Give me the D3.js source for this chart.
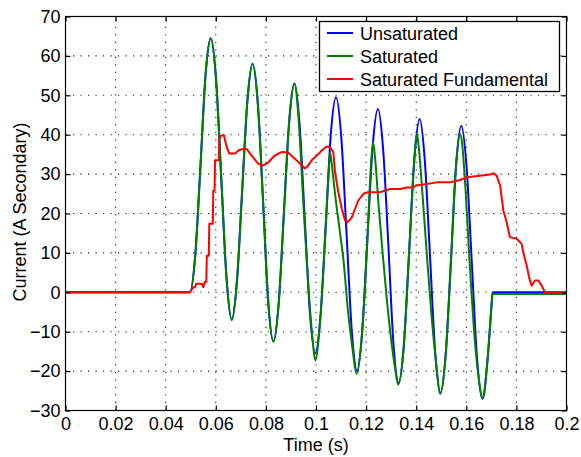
<!DOCTYPE html>
<html><head><meta charset="utf-8">
<script src="https://cdn.jsdelivr.net/npm/d3@7"></script>
<style>body{margin:0;background:#fff}text{font-family:"Liberation Sans",Arial,Helvetica,sans-serif}</style>
</head><body><svg id="c" width="581" height="457"></svg>
<script>
const xTicks=[0,0.02,0.04,0.06,0.08,0.1,0.12,0.14,0.16,0.18,0.2];
const xTickLabels=["0","0.02","0.04","0.06","0.08","0.1","0.12","0.14","0.16","0.18","0.2"];
const yTicks=[-30,-20,-10,0,10,20,30,40,50,60,70];
const yTickLabels=["\u221230","\u221220","\u221210","0","10","20","30","40","50","60","70"];
const seriesNames=["Unsaturated","Saturated","Saturated Fundamental"];
const seriesColors=["#0000ff","#008000","#ff0000"];

const unsatT=[0,0.0497,0.0518,0.0539,0.0559,0.0580,0.0601,0.0622,0.0643,0.0664,0.0684,0.0705,0.0726,0.0747,0.0768,0.0789,0.0809,0.0830,0.0851,0.0872,0.0893,0.0914,0.0934,0.0955,0.0976,0.0997,0.1018,0.1039,0.1059,0.1080,0.1101,0.1122,0.1143,0.1164,0.1184,0.1205,0.1226,0.1247,0.1268,0.1289,0.1309,0.1330,0.1351,0.1372,0.1393,0.1414,0.1434,0.1455,0.1476,0.1497,0.1518,0.1539,0.1559,0.1580,0.1601,0.1622,0.1643,0.1664,0.1685,0.1700,0.1705,0.2];
const unsatV=[0,0,9.4,32.3,55.1,64.5,54.1,28.8,3.4,-7,2.5,25.5,48.5,58,47.7,22.8,-2.2,-12.5,-2.9,20.3,43.4,53,43,18.8,-5.5,-15.5,-6,17,40,49.5,39.3,14.8,-9.9,-20,-10.3,13.3,36.8,46.5,36.3,11.8,-12.9,-23,-13.2,10.5,34.2,44,33.8,9.3,-15.4,-25.5,-15.6,8.3,32.1,42.3,31.9,7.5,-16.9,-27,-17,-4,0,0];

const satT=[0,0.0497,0.0518,0.0539,0.0559,0.0580,0.0601,0.0622,0.0643,0.0664,0.0684,0.0705,0.0726,0.0747,0.0768,0.0789,0.0809,0.0830,0.0851,0.0872,0.0893,0.0914,0.0930,0.0950,0.0970,0.0985,0.0997,0.1018,0.1039,0.1050,0.1056,0.1062,0.1076,0.1094,0.1110,0.1128,0.1145,0.1162,0.1184,0.1205,0.1220,0.1228,0.1236,0.1250,0.1266,0.1283,0.1300,0.1315,0.1328,0.1351,0.1372,0.1393,0.1402,0.1410,0.1425,0.1442,0.1460,0.1478,0.1496,0.1518,0.1539,0.1559,0.1575,0.1583,0.1593,0.1613,0.1635,0.1650,0.1666,0.1685,0.1700,0.1705,0.2];
const satV=[0,0,9.4,32.3,55.1,64.5,54.1,28.8,3.4,-7,2.5,25.5,48.5,58,47.7,22.8,-2.2,-12.5,-2.9,20.3,43.4,53,44.5,22,1,-11,-17.3,-6,17,30,35.5,33,25,16,8,-5,-14,-20.7,-10.3,13.3,33,38,34,22,10,-2,-12,-19,-23.4,-13.2,10.5,34.2,40.2,37,25,10,-5,-17,-25.8,-15.6,8.3,32.1,40.2,38,30,8,-13,-22,-27,-17,-4,-0.4,-0.4];

const fundT=[0,0.0497,0.0510,0.0517,0.0522,0.0544,0.0550,0.0556,0.0562,0.0564,0.0572,0.0574,0.0588,0.0590,0.0595,0.0597,0.0612,0.0614,0.0620,0.0633,0.0637,0.0644,0.0654,0.0677,0.0690,0.0709,0.0723,0.0737,0.0753,0.0770,0.0790,0.0810,0.0823,0.0836,0.0856,0.0868,0.0889,0.0909,0.0929,0.0943,0.0956,0.0969,0.0983,0.1003,0.1023,0.1043,0.1056,0.1069,0.1076,0.1089,0.1103,0.1116,0.1126,0.1143,0.1156,0.1169,0.1189,0.1208,0.1255,0.1275,0.1295,0.1335,0.1362,0.1388,0.1400,0.1442,0.1482,0.1535,0.1575,0.1602,0.1655,0.1695,0.1708,0.1721,0.1735,0.1748,0.1761,0.1774,0.1801,0.1821,0.1827,0.1841,0.1852,0.1861,0.1874,0.1888,0.1901,0.1914,0.2];
const fundV=[0,0,1.3,1.3,2.2,2.2,1.3,2.6,2.6,9.3,9.3,17.4,17.4,25.8,25.8,33.5,33.5,38.9,39.8,39.8,38.5,36.8,35.2,35.2,36,36.4,36.4,35.2,33.9,32.6,32.2,33,33.9,34.7,35.4,35.6,35.4,34.3,33.1,32.2,31.4,32.2,33.5,34.7,36,37,36.8,35.6,30.5,25.4,21.2,18.2,17.8,19,21.2,23.3,25,25.4,25.4,25.8,26.2,26.2,26.6,26.6,27.1,27.5,27.9,27.9,28.5,29.2,29.6,29.9,30.2,29.6,27.1,20.7,17.8,14,13.6,12.3,10.2,6.8,3.4,1.7,3,3,1.7,0,0];

const svg=d3.select("#c");
const L=65.5,R=566.5,T=16.5,B=410.5;
const x=d3.scaleLinear().domain([0,0.2]).range([L,R]);
const y=d3.scaleLinear().domain([-30,70]).range([B,T]);

svg.append("rect").attr("x",0).attr("y",0).attr("width",581).attr("height",457).attr("fill","#fff");

// grid
const grid=svg.append("g").attr("stroke","#222").attr("stroke-width",1.1).attr("stroke-dasharray","1.2,6.3");
grid.selectAll("line.gx").data(xTicks.slice(1,-1)).enter().append("line")
 .attr("x1",d=>x(d)).attr("x2",d=>x(d)).attr("y1",B).attr("y2",T);
grid.selectAll("line.gy").data(yTicks.slice(1,-1)).enter().append("line")
 .attr("y1",d=>y(d)).attr("y2",d=>y(d)).attr("x1",L).attr("x2",R);

svg.append("clipPath").attr("id","clip").append("rect").attr("x",L).attr("y",T).attr("width",R-L).attr("height",B-T);

const line=d3.line().x(d=>x(d[0])).y(d=>y(d[1]));
const series=[
 {t:unsatT,v:unsatV,curve:d3.curveMonotoneX},
 {t:satT,v:satV,curve:d3.curveMonotoneX},
 {t:fundT,v:fundV,curve:d3.curveLinear}
];
const plot=svg.append("g").attr("clip-path","url(#clip)");
series.forEach((s,i)=>{
  const pts=s.t.map((t,j)=>[t,s.v[j]]);
  plot.append("path").attr("d",line.curve(s.curve)(pts)).attr("fill","none")
   .attr("stroke",seriesColors[i]).attr("stroke-width",2).attr("stroke-linejoin","round");
});

// axes (MATLAB box, ticks inside)
const tickLen=5;
const ax=svg.append("g").attr("stroke","#000").attr("stroke-width",1.2).attr("fill","none");
ax.append("rect").attr("x",L).attr("y",T).attr("width",R-L).attr("height",B-T);
const xAxisB=d3.axisBottom(x).tickValues(xTicks).tickSizeInner(-tickLen).tickSizeOuter(0).tickFormat((d,i)=>xTickLabels[i]).tickPadding(7);
const xAxisT=d3.axisTop(x).tickValues(xTicks).tickSizeInner(-tickLen).tickSizeOuter(0).tickFormat("");
const yAxisL=d3.axisLeft(y).tickValues(yTicks).tickSizeInner(-tickLen).tickSizeOuter(0).tickFormat((d,i)=>yTickLabels[i]).tickPadding(5);
const yAxisR=d3.axisRight(y).tickValues(yTicks).tickSizeInner(-tickLen).tickSizeOuter(0).tickFormat("");
function style(g){g.select(".domain").remove();g.selectAll("line").attr("stroke","#000").attr("stroke-width",1.2);
 g.selectAll("text").attr("fill","#000").style("font-size","18px").style("font-family","'Liberation Sans',Arial,sans-serif");}
svg.append("g").attr("transform",`translate(0,${B})`).call(xAxisB).call(style);
svg.append("g").attr("transform",`translate(0,${T})`).call(xAxisT).call(style);
svg.append("g").attr("transform",`translate(${L},0)`).call(yAxisL).call(style);
svg.append("g").attr("transform",`translate(${R},0)`).call(yAxisR).call(style);

svg.append("text").attr("x",316).attr("y",451).attr("text-anchor","middle").style("font-size","18px").text("Time (s)");
svg.append("text").attr("transform","translate(26,212) rotate(-90)").attr("text-anchor","middle").style("font-size","18px").text("Current (A Secondary)");

// legend
const lg=svg.append("g");
lg.append("rect").attr("x",319.5).attr("y",21.5).attr("width",240).attr("height",70).attr("fill","#fff").attr("stroke","#000").attr("stroke-width",1.3);
seriesNames.forEach((n,i)=>{
  const ly=33+i*23;
  lg.append("line").attr("x1",327).attr("x2",353).attr("y1",ly).attr("y2",ly).attr("stroke",seriesColors[i]).attr("stroke-width",2);
  lg.append("text").attr("x",360).attr("y",ly+6.5).style("font-size","18px").attr("fill","#000").text(n);
});
</script></body></html>
